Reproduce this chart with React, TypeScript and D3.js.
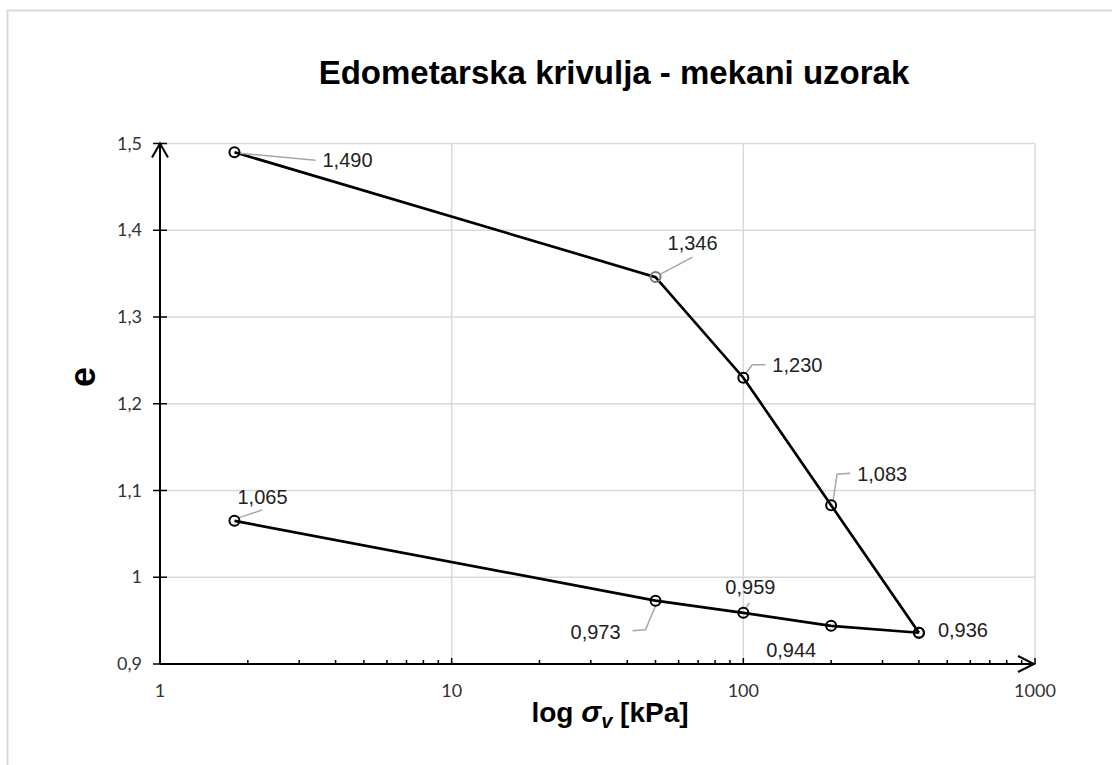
import * as d3 from 'd3';
import React, { useEffect, useRef } from 'react';

const stress = [1.8, 50, 100, 200, 400];
const loading = [1.49, 1.346, 1.23, 1.083, 0.936];
const unloading = [1.065, 0.973, 0.959, 0.944, 0.936];
const loadLabels = ['1,490', '1,346', '1,230', '1,083', '0,936'];
const unloadLabels = ['1,065', '0,973', '0,959', '0,944', ''];
const yTicks = [0.9, 1, 1.1, 1.2, 1.3, 1.4, 1.5];
const yTickLabels = ['0,9', '1', '1,1', '1,2', '1,3', '1,4', '1,5'];
const xTicks = [1, 10, 100, 1000];

type LabelPos = { dx: number; dy: number; leader: [number, number][] | null };

// label start / baseline relative to the point, plus the leader line
const loadLabelPos: LabelPos[] = [
  { dx: 88, dy: 15, leader: [[5, 1], [81, 8]] },
  { dx: 12, dy: -27, leader: [[5, -3], [37, -20]] },
  { dx: 29, dy: -6, leader: [[2, -4], [9, -13], [22, -13]] },
  { dx: 26, dy: -24, leader: [[2, -5], [6, -31], [19, -32]] },
  { dx: 19, dy: 4, leader: null },
];
const unloadLabelPos: LabelPos[] = [
  { dx: 3, dy: -17, leader: [[4, -3], [28, -11]] },
  { dx: -85, dy: 38, leader: [[0, 5], [-10, 29], [-23, 30]] },
  { dx: -18, dy: -19, leader: [[2, -4], [6, -10]] },
  { dx: -65, dy: 31, leader: null },
  { dx: 0, dy: 0, leader: null },
];

const App = () => {
  const ref = useRef<SVGSVGElement>(null);

  useEffect(() => {
    const svg = d3.select(ref.current);
    svg.selectAll('*').remove();

    const x = d3.scaleLog().domain([1, 1000]).range([160, 1035]);
    const y = d3.scaleLinear().domain([0.9, 1.5]).range([664, 143.5]);
    const grid = '#d9d9d9';
    const font = '"Liberation Sans", Arial, sans-serif';
    const tickFont = 'Lato, "Open Sans", sans-serif';

    svg.append('rect')
      .attr('x', 7.5).attr('y', 10.5).attr('width', 1200).attr('height', 900)
      .attr('fill', 'white').attr('stroke', grid).attr('stroke-width', 2);

    svg.append('text')
      .attr('x', 614).attr('y', 84)
      .attr('text-anchor', 'middle')
      .style('font-family', font).style('font-weight', 'bold').style('font-size', '33px')
      .text('Edometarska krivulja - mekani uzorak');

    // gridlines
    svg.append('g').selectAll('line').data(yTicks.slice(1)).enter().append('line')
      .attr('x1', 160).attr('x2', 1035)
      .attr('y1', d => y(d)).attr('y2', d => y(d))
      .attr('stroke', grid).attr('stroke-width', 1.5);
    svg.append('g').selectAll('line').data(xTicks.slice(1)).enter().append('line')
      .attr('x1', d => x(d)).attr('x2', d => x(d))
      .attr('y1', y(1.5)).attr('y2', y(0.9))
      .attr('stroke', grid).attr('stroke-width', 1.5);

    // axes
    svg.append('line').attr('x1', 160).attr('x2', 160).attr('y1', y(0.9)).attr('y2', y(1.5))
      .attr('stroke', 'black').attr('stroke-width', 2);
    svg.append('line').attr('x1', 160).attr('x2', 1035).attr('y1', y(0.9)).attr('y2', y(0.9))
      .attr('stroke', 'black').attr('stroke-width', 2);
    svg.append('path')
      .attr('d', `M152,${y(1.5) + 14}L160,${y(1.5)}L168,${y(1.5) + 14}`)
      .attr('fill', 'none').attr('stroke', 'black').attr('stroke-width', 2);
    svg.append('path')
      .attr('d', `M1018,${y(0.9) - 8}L1034,${y(0.9)}L1018,${y(0.9) + 8}`)
      .attr('fill', 'none').attr('stroke', 'black').attr('stroke-width', 2);

    svg.append('g').selectAll('line').data(yTicks).enter().append('line')
      .attr('x1', 153).attr('x2', 167)
      .attr('y1', d => y(d)).attr('y2', d => y(d))
      .attr('stroke', 'black').attr('stroke-width', 1.5);
    svg.append('g').selectAll('text').data(yTicks).enter().append('text')
      .attr('x', 142).attr('y', d => y(d) + 6)
      .attr('text-anchor', 'end')
      .style('font-family', tickFont).style('font-size', '18px').attr('fill', '#333')
      .text((d, i) => yTickLabels[i]);

    const minor: number[] = [];
    [1, 10, 100].forEach(dec => {
      for (let k = 2; k <= 10; k++) minor.push(dec * k);
    });
    svg.append('g').selectAll('line').data(minor).enter().append('line')
      .attr('x1', d => x(d)).attr('x2', d => x(d))
      .attr('y1', y(0.9)).attr('y2', d => y(0.9) - (xTicks.includes(d) ? 6 : 4))
      .attr('stroke', 'black').attr('stroke-width', 1.5);
    svg.append('g').selectAll('text').data(xTicks).enter().append('text')
      .attr('x', d => x(d)).attr('y', 697)
      .attr('text-anchor', 'middle')
      .style('font-family', tickFont).style('font-size', '18px').attr('fill', '#333')
      .text(d => String(d));

    // axis titles
    svg.append('text')
      .attr('transform', 'translate(95,377) rotate(-90)')
      .attr('text-anchor', 'middle')
      .style('font-family', font).style('font-weight', 'bold').style('font-size', '36px')
      .text('e');
    const xt = svg.append('text')
      .attr('x', 610).attr('y', 722)
      .attr('text-anchor', 'middle')
      .style('font-family', font).style('font-weight', 'bold').style('font-size', '28px');
    xt.append('tspan').text('log ');
    xt.append('tspan').style('font-style', 'italic').style('font-size', '30px').text('σ');
    xt.append('tspan').style('font-style', 'italic').style('font-size', '20px').attr('dy', 6).text('v');
    xt.append('tspan').attr('dy', -6).text(' [kPa]');

    const line = d3.line<number>().x((d, i) => x(stress[i])).y(d => y(d));
    [loading, unloading].forEach(series => {
      svg.append('path').datum(series).attr('d', line)
        .attr('fill', 'none').attr('stroke', 'black').attr('stroke-width', 2.7);
    });

    const drawLabels = (series: number[], labels: string[], pos: LabelPos[]) => {
      series.forEach((v, i) => {
        if (!labels[i]) return;
        const px = x(stress[i]);
        const py = y(v);
        const p = pos[i];
        if (p.leader) {
          svg.append('path')
            .attr('d', d3.line()(p.leader.map(([a, b]) => [px + a, py + b] as [number, number])))
            .attr('fill', 'none').attr('stroke', '#a6a6a6').attr('stroke-width', 1.5);
        }
        svg.append('text')
          .attr('x', px + p.dx).attr('y', py + p.dy)
          .style('font-family', font).style('font-size', '20px').attr('fill', '#222')
          .text(labels[i]);
      });
    };
    drawLabels(loading, loadLabels, loadLabelPos);
    drawLabels(unloading, unloadLabels, unloadLabelPos);

    [loading, unloading].forEach((series, si) => {
      svg.append('g').selectAll('circle').data(series).enter().append('circle')
        .attr('cx', (d, i) => x(stress[i])).attr('cy', d => y(d)).attr('r', 5)
        .attr('fill', 'none')
        .attr('stroke', (d, i) => (si === 0 && i === 1 ? '#777' : 'black'))
        .attr('stroke-width', 2);
    });
  }, []);

  return (
    <svg ref={ref} width={1112} height={765}
      style={{ position: 'absolute', left: 0, top: 0, background: 'white' }} />
  );
};

export default App;
